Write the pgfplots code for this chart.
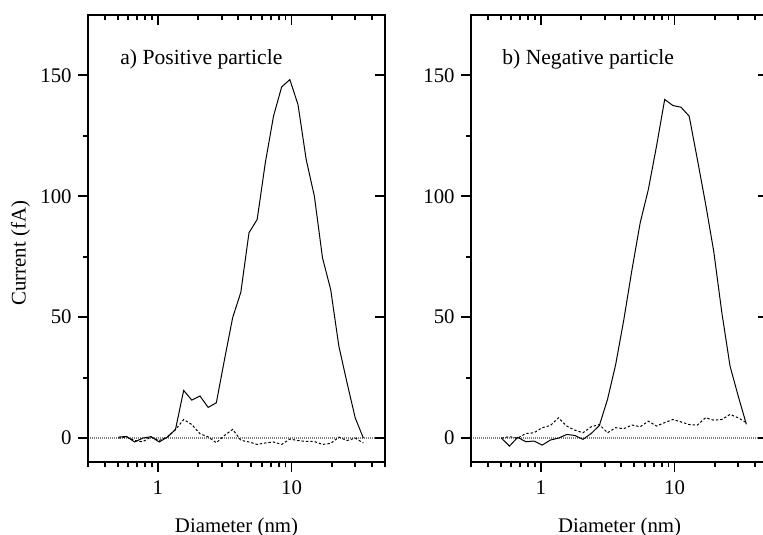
\documentclass[border=0pt]{standalone}
\usepackage{pgfplots}
\pgfplotsset{compat=1.18}
\usepackage{pgfplotstable}
\usepackage{fontspec}
\setmainfont{Liberation Serif}

% diameter (nm), positive solid/dashed, negative solid/dashed (fA)
\pgfplotstableread{
d      posS   posD   negS   negD
0.506  0.4    0.0    0.0    0.0
0.582  0.7    0.5   -3.3    0.6
0.670 -1.6   -1.0    0.3    0.0
0.771  0.0   -1.5   -1.5    1.9
0.888  0.6    0.5   -1.2    2.2
1.022 -1.6   -1.0   -2.9    4.3
1.177  0.4    0.5   -0.8    5.2
1.354  3.6    3.5    0.0    8.4
1.559  19.7   7.7    1.5    5.0
1.794  15.7   5.6    1.1    3.3
2.065  17.4   1.8   -0.5    2.2
2.377  12.7   0.5    1.9    4.7
2.736  14.6  -1.9    5.2    5.6
3.150  32.5   1.1    16.0   2.2
3.625  49.8   3.6    30.4   4.3
4.173  60.3  -0.9    49.0   3.9
4.803  84.9  -1.6    69.7   5.4
5.530  90.4  -2.6    89.0   4.7
6.365  113.9 -2.0    102.8  7.0
7.327  133.1 -1.6    120.7  5.0
8.433  145.2 -2.6    140.0  6.4
9.707  148.2 -0.4    137.5  7.7
11.17  137.9 -1.0    136.8  6.7
12.86  115.2 -1.4    133.1  5.6
14.81  100.0 -1.4    115.2  5.4
17.04  74.5  -2.6    97.0   8.4
19.62  61.4  -2.2    77.3   7.4
22.58  38.0   0.4    51.8   7.7
25.99  22.9  -1.0    29.8   9.8
29.92  8.4    0.0    17.4   8.4
34.44  0.0   -2.0    5.7    6.4
}\datatable

\begin{document}
\begin{tikzpicture}[font=\fontsize{10.4}{12}\selectfont]
  % panel a: bottom/left ticks outward with labels
  \begin{axis}[at={(0,0)}, anchor=south west,
    xmode=log, scale only axis, width=148.5pt, height=223.75pt,
    xmin=0.3, xmax=50, ymin=-10, ymax=175,
    axis line style={line width=0.9pt},
    major tick length=5pt, minor tick length=2.5pt,
    tick style={black, line width=0.9pt},
    xtick={1,10}, xticklabels={1,10},
    minor xtick={0.3,0.4,0.5,0.6,0.7,0.8,0.9,2,3,4,5,6,7,8,9,20,30,40,50},
    ytick={0,50,100,150}, minor ytick={25,75,125},
    tick align=outside, xtick pos=left, ytick pos=left,
    /pgf/number format/assume math mode=true,
    xticklabel style={anchor=base, inner sep=0pt, yshift=-11pt},
    yticklabel style={anchor=east, inner sep=0pt, xshift=-3pt},
    clip=false]
    \addplot[gray, line width=0.9pt, dash pattern=on 0.5pt off 0.5pt] coordinates {(0.3,0) (50,0)};
    \addplot[black, line width=0.5pt, dash pattern=on 1.2pt off 1pt] table[x=d, y=posD] {\datatable};
    \addplot[black, line width=0.5pt] table[x=d, y=posS] {\datatable};
  \end{axis}
  % panel a: top/right ticks inward
  \begin{axis}[at={(0,0)}, anchor=south west,
    xmode=log, scale only axis, width=148.5pt, height=223.75pt,
    xmin=0.3, xmax=50, ymin=-10, ymax=175,
    axis line style={line width=0.9pt},
    major tick length=5pt, minor tick length=2.5pt,
    tick style={black, line width=0.9pt},
    xtick={1,10}, xticklabels={},
    minor xtick={0.3,0.4,0.5,0.6,0.7,0.8,0.9,2,3,4,5,6,7,8,9,20,30,40,50},
    ytick={0,50,100,150}, yticklabels={},
    tick align=inside, xtick pos=right, ytick pos=right]
  \end{axis}

  % panel b
  \begin{axis}[at={(191.5pt,0)}, anchor=south west,
    xmode=log, scale only axis, width=148.5pt, height=223.75pt,
    xmin=0.3, xmax=50, ymin=-10, ymax=175,
    axis line style={line width=0.9pt},
    major tick length=5pt, minor tick length=2.5pt,
    tick style={black, line width=0.9pt},
    xtick={1,10}, xticklabels={1,10},
    minor xtick={0.3,0.4,0.5,0.6,0.7,0.8,0.9,2,3,4,5,6,7,8,9,20,30,40,50},
    ytick={0,50,100,150}, minor ytick={25,75,125},
    tick align=outside, xtick pos=left, ytick pos=left,
    /pgf/number format/assume math mode=true,
    xticklabel style={anchor=base, inner sep=0pt, yshift=-11pt},
    yticklabel style={anchor=east, inner sep=0pt, xshift=-3pt},
    clip=false]
    \addplot[gray, line width=0.9pt, dash pattern=on 0.5pt off 0.5pt] coordinates {(0.3,0) (50,0)};
    \addplot[black, line width=0.5pt, dash pattern=on 1.2pt off 1pt] table[x=d, y=negD] {\datatable};
    \addplot[black, line width=0.5pt] table[x=d, y=negS] {\datatable};
  \end{axis}
  \begin{axis}[at={(191.5pt,0)}, anchor=south west,
    xmode=log, scale only axis, width=148.5pt, height=223.75pt,
    xmin=0.3, xmax=50, ymin=-10, ymax=175,
    axis line style={line width=0.9pt},
    major tick length=5pt, minor tick length=2.5pt,
    tick style={black, line width=0.9pt},
    xtick={1,10}, xticklabels={},
    minor xtick={0.3,0.4,0.5,0.6,0.7,0.8,0.9,2,3,4,5,6,7,8,9,20,30,40,50},
    ytick={0,50,100,150}, yticklabels={},
    tick align=inside, xtick pos=right, ytick pos=right]
  \end{axis}

  \node[rotate=90, anchor=center] at (-33.7pt,104.6pt) {Current (fA)};
  \node[anchor=base] at (74.25pt,-35pt) {Diameter (nm)};
  \node[anchor=base] at (265.75pt,-35pt) {Diameter (nm)};
  \node[anchor=base west, inner sep=0pt, font=\fontsize{10.8}{13}\selectfont] at (16pt,198.7pt) {a) Positive particle};
  \node[anchor=base west, inner sep=0pt, font=\fontsize{10.8}{13}\selectfont] at (207pt,198.7pt) {b) Negative particle};

  \pgfresetboundingbox
  \path (-44pt,-35.85pt) rectangle (337.5pt,231.15pt);
\end{tikzpicture}
\end{document}
